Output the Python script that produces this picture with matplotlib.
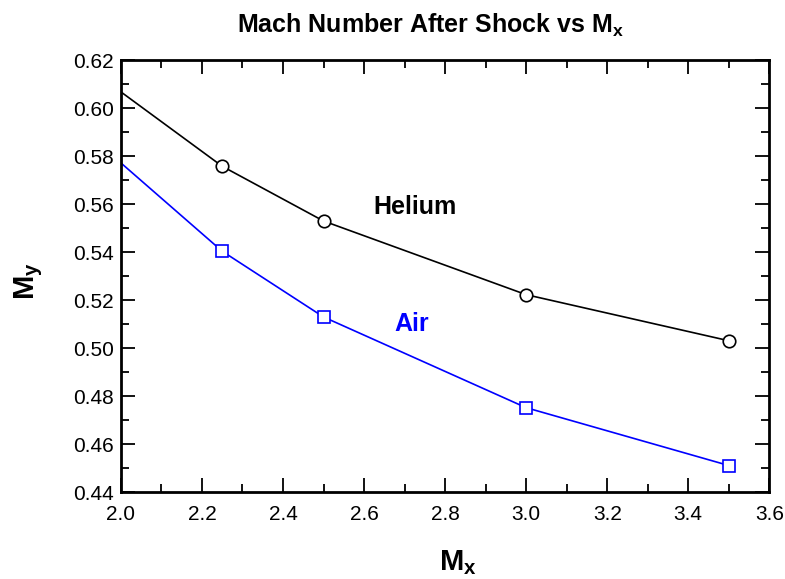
import matplotlib
matplotlib.use("Agg")
import matplotlib.pyplot as plt
from matplotlib.ticker import MultipleLocator

plt.rcParams["font.family"] = ["Liberation Sans", "DejaVu Sans"]
plt.rcParams["mathtext.fontset"] = "custom"
plt.rcParams["mathtext.rm"] = "Liberation Sans"
plt.rcParams["mathtext.it"] = "Liberation Sans:italic"
plt.rcParams["mathtext.bf"] = "Liberation Sans:bold"

mx = [2.0, 2.25, 2.5, 3.0, 3.5]
helium = [0.6068, 0.5758, 0.5530, 0.5223, 0.5031]
air = [0.5772, 0.5404, 0.5130, 0.4752, 0.4511]

fig = plt.figure(figsize=(7.85, 5.79), dpi=100)
ax = fig.add_axes([0.154, 0.150, 0.826, 0.746])

ax.plot(mx, helium, color="black", lw=1.2, zorder=2)
ax.plot(mx[1:], helium[1:], ls="none", marker="o", ms=9, mfc="white",
        mec="black", mew=1.2, zorder=3)
ax.plot(mx, air, color="blue", lw=1.2, zorder=2)
ax.plot(mx[1:], air[1:], ls="none", marker="s", ms=9, mfc="white",
        mec="blue", mew=1.2, zorder=3)

ax.text(2.726, 0.5590, "Helium", color="black", fontsize=18, fontweight="bold",
        ha="center", va="center")
ax.text(2.718, 0.5100, "Air", color="blue", fontsize=18, fontweight="bold",
        ha="center", va="center")

ax.set_xlim(2.0, 3.6)
ax.set_ylim(0.44, 0.62)
ax.xaxis.set_major_locator(MultipleLocator(0.2))
ax.xaxis.set_minor_locator(MultipleLocator(0.1))
ax.yaxis.set_major_locator(MultipleLocator(0.02))
ax.yaxis.set_minor_locator(MultipleLocator(0.01))
ax.xaxis.set_major_formatter(plt.FormatStrFormatter("%.1f"))
ax.yaxis.set_major_formatter(plt.FormatStrFormatter("%.2f"))

ax.tick_params(which="both", direction="in", top=True, right=True,
               labelsize=15, width=1.3)
ax.tick_params(which="major", length=10, pad=5)
ax.tick_params(axis="x", which="major", pad=9)
ax.tick_params(which="minor", length=6)
for s in ax.spines.values():
    s.set_linewidth(2)

ax.set_xlabel(r"$\mathbf{M_x}$", fontsize=21, labelpad=18, x=0.52)
ax.set_ylabel(r"$\mathbf{M_y}$", fontsize=21, labelpad=20, y=0.488)
ax.set_title(r"Mach Number After Shock vs $\mathbf{M_x}$",
             fontsize=18, fontweight="bold", pad=20, x=0.477)

fig.savefig("out.png", dpi=100)
